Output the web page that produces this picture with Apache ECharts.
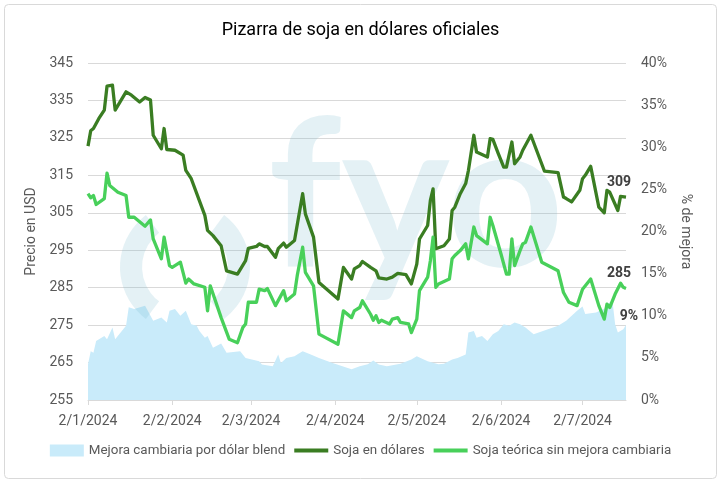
<!DOCTYPE html>
<html>
<head>
<meta charset="utf-8">
<script src="https://cdn.jsdelivr.net/npm/echarts@6/dist/echarts.min.js"></script>
<style>
html,body{margin:0;padding:0;background:#fff;}
#chart{width:721px;height:483px;}
</style>
</head>
<body>
<div id="chart"></div>
<script>
// ---- Datos ----
const titulo = 'Pizarra de soja en dólares oficiales';
const nombreMejora = 'Mejora cambiaria por dólar blend';
const nombreSoja = 'Soja en dólares';
const nombreTeorica = 'Soja teórica sin mejora cambiaria';

const ticksFechas = ['2024-01-02','2024-02-02','2024-03-02','2024-04-02','2024-05-02','2024-06-02','2024-07-02'];
const fechaInicio = '2024-01-02';
const fechaFin = '2024-07-18';

const ticksPrecio = [255, 265, 275, 285, 295, 305, 315, 325, 335, 345];
const ticksMejora = [0, 5, 10, 15, 20, 25, 30, 35, 40];

const fechasSoja = ['2024-01-02','2024-01-03','2024-01-04','2024-01-06','2024-01-08','2024-01-09','2024-01-11','2024-01-12','2024-01-16','2024-01-18','2024-01-21','2024-01-23','2024-01-25','2024-01-26','2024-01-29','2024-01-30','2024-01-31','2024-02-03','2024-02-06','2024-02-07','2024-02-09','2024-02-14','2024-02-15','2024-02-17','2024-02-20','2024-02-22','2024-02-26','2024-02-29','2024-03-01','2024-03-04','2024-03-05','2024-03-07','2024-03-08','2024-03-11','2024-03-12','2024-03-14','2024-03-15','2024-03-18','2024-03-21','2024-03-22','2024-03-25','2024-03-27','2024-04-03','2024-04-05','2024-04-08','2024-04-09','2024-04-11','2024-04-12','2024-04-15','2024-04-17','2024-04-18','2024-04-21','2024-04-23','2024-04-25','2024-04-28','2024-04-30','2024-05-02','2024-05-03','2024-05-06','2024-05-07','2024-05-08','2024-05-09','2024-05-12','2024-05-14','2024-05-15','2024-05-16','2024-05-18','2024-05-20','2024-05-21','2024-05-23','2024-05-24','2024-05-28','2024-05-29','2024-05-30','2024-06-01','2024-06-03','2024-06-04','2024-06-06','2024-06-07','2024-06-09','2024-06-10','2024-06-13','2024-06-18','2024-06-23','2024-06-25','2024-06-26','2024-06-28','2024-07-01','2024-07-02','2024-07-03','2024-07-05','2024-07-08','2024-07-10','2024-07-11','2024-07-12','2024-07-15','2024-07-16','2024-07-18'];
const sojaUSD = [322.8,326.9,327.5,330.2,332.4,338.8,339.1,332.4,337.3,336.4,334.6,335.8,335.1,325.7,322.1,327.5,321.9,321.7,320.4,316.3,314.1,304.3,300.3,298.9,296.2,289.5,288.6,292.2,295.5,296.0,296.7,296.0,296.0,293.1,295.4,296.9,295.8,297.6,310.1,304.7,298.5,286.4,282.0,290.4,287.3,290.0,290.9,292.0,290.4,289.5,287.6,287.3,287.8,288.8,288.5,286.0,291.3,298.0,301.6,308.3,311.4,295.4,296.2,298.0,305.6,306.5,310.1,312.8,316.3,325.7,321.2,319.9,324.8,324.6,320.8,317.2,317.2,323.9,318.1,319.9,321.7,325.7,316.1,315.7,309.2,308.8,307.9,311.0,314.1,315.0,317.4,306.5,305.0,311.0,310.5,305.6,309.4,309.2];

const fechasTeorica = ['2024-01-02','2024-01-03','2024-01-04','2024-01-05','2024-01-08','2024-01-09','2024-01-10','2024-01-13','2024-01-16','2024-01-17','2024-01-19','2024-01-23','2024-01-25','2024-01-26','2024-01-29','2024-01-30','2024-02-01','2024-02-02','2024-02-05','2024-02-07','2024-02-08','2024-02-10','2024-02-14','2024-02-15','2024-02-16','2024-02-20','2024-02-23','2024-02-26','2024-02-28','2024-02-29','2024-03-01','2024-03-04','2024-03-05','2024-03-07','2024-03-08','2024-03-11','2024-03-14','2024-03-15','2024-03-18','2024-03-19','2024-03-21','2024-03-22','2024-03-25','2024-03-27','2024-04-03','2024-04-05','2024-04-08','2024-04-09','2024-04-11','2024-04-12','2024-04-15','2024-04-16','2024-04-17','2024-04-18','2024-04-19','2024-04-22','2024-04-23','2024-04-25','2024-04-26','2024-04-29','2024-04-30','2024-05-02','2024-05-03','2024-05-06','2024-05-07','2024-05-08','2024-05-09','2024-05-10','2024-05-14','2024-05-15','2024-05-16','2024-05-18','2024-05-20','2024-05-21','2024-05-23','2024-05-24','2024-05-28','2024-05-29','2024-05-30','2024-06-02','2024-06-04','2024-06-05','2024-06-06','2024-06-07','2024-06-09','2024-06-10','2024-06-11','2024-06-13','2024-06-17','2024-06-23','2024-06-25','2024-06-27','2024-06-30','2024-07-02','2024-07-05','2024-07-08','2024-07-10','2024-07-11','2024-07-12','2024-07-14','2024-07-16','2024-07-17','2024-07-18'];
const sojaTeorica = [310.1,309.0,309.6,307.2,308.8,315.6,312.3,310.5,309.6,303.8,303.8,301.4,303.1,298.0,292.7,298.5,290.9,290.4,291.8,286.2,287.3,286.0,285.1,278.8,285.5,277.0,271.2,270.3,274.4,275.3,281.1,281.1,284.6,284.2,284.8,280.2,284.2,281.5,283.3,288.2,295.8,289.1,285.5,272.6,269.9,278.8,277.0,278.8,279.7,281.5,277.9,276.3,277.5,275.7,276.3,275.3,276.6,277.0,275.7,275.3,273.0,276.6,284.2,287.8,292.2,298.5,285.1,286.0,287.3,292.7,293.6,294.9,296.7,292.7,301.2,298.9,296.7,303.8,301.6,294.0,288.6,288.6,298.0,290.9,294.9,296.7,297.1,301.2,291.8,289.5,283.7,281.1,280.2,284.6,287.3,280.2,276.6,280.6,279.7,283.3,286.2,285.1,284.8];

const fechasMejora = ['2024-01-02','2024-01-03','2024-01-04','2024-01-05','2024-01-08','2024-01-09','2024-01-11','2024-01-12','2024-01-16','2024-01-17','2024-01-19','2024-01-23','2024-01-26','2024-01-29','2024-01-31','2024-02-01','2024-02-03','2024-02-05','2024-02-07','2024-02-09','2024-02-11','2024-02-12','2024-02-14','2024-02-15','2024-02-17','2024-02-20','2024-02-22','2024-02-27','2024-02-29','2024-03-05','2024-03-06','2024-03-10','2024-03-12','2024-03-13','2024-03-15','2024-03-18','2024-03-19','2024-03-21','2024-03-24','2024-03-27','2024-04-01','2024-04-08','2024-04-11','2024-04-14','2024-04-16','2024-04-18','2024-04-21','2024-04-26','2024-04-30','2024-05-02','2024-05-06','2024-05-10','2024-05-12','2024-05-15','2024-05-17','2024-05-20','2024-05-21','2024-05-23','2024-05-24','2024-05-26','2024-05-28','2024-05-30','2024-06-01','2024-06-03','2024-06-05','2024-06-07','2024-06-09','2024-06-11','2024-06-14','2024-06-23','2024-06-26','2024-06-30','2024-07-02','2024-07-03','2024-07-07','2024-07-11','2024-07-12','2024-07-13','2024-07-14','2024-07-15','2024-07-17','2024-07-18'];
const mejoraBlend = [4.25,5.8,5.6,7.0,7.6,7.2,8.6,7.2,8.8,11.0,10.8,11.2,9.4,9.8,9.2,10.6,10.8,10.0,10.6,9.0,8.8,8.2,7.4,7.6,6.2,6.7,5.6,5.8,5.0,4.6,4.2,4.0,5.4,4.4,5.0,5.2,5.4,5.8,5.4,5.0,4.4,3.65,4.0,4.25,4.7,4.2,4.0,4.3,4.8,5.2,4.6,4.25,4.3,4.8,5.0,5.4,8.0,8.2,7.4,7.6,7.0,7.8,8.2,9.0,8.8,9.2,9.0,8.6,7.8,8.8,9.4,10.6,11.1,10.2,10.4,11.0,11.6,11.8,9.0,8.0,8.4,8.9];

// ---- Helpers ----
function toTime(s){ const p = s.split('-').map(Number); return new Date(p[0], p[1]-1, p[2]).getTime(); }
function fmtFecha(v){ const d = new Date(v); return d.getDate() + '/' + (d.getMonth()+1) + '/' + d.getFullYear(); }

const FONT = "Roboto, 'Liberation Sans', sans-serif";
const GRIS = '#595959';
const C_AREA = '#c9ebfa';
const C_SOJA = '#3a7d22';
const C_TEO = '#48d05a';

function buildData(fechas, vals, lastLabel){
  return fechas.map((f, i) => {
    const item = { value: [toTime(f), vals[i]] };
    if (i === fechas.length - 1 && lastLabel) item.label = lastLabel;
    return item;
  });
}

const labelStyle = { show: true, color: '#404040', fontWeight: 'bold', fontSize: 14, fontFamily: FONT };

const chart = echarts.init(document.getElementById('chart'), null, { renderer: 'canvas' });
const lineIcon = 'path://M0,0 L34,0 L34,4 L0,4 Z';
const tickTimes = ticksFechas.map(toTime);

chart.setOption({
  animation: false,
  backgroundColor: '#fff',
  title: {
    text: titulo, left: 'center', top: 16,
    textStyle: { fontFamily: FONT, fontSize: 18, fontWeight: 'normal', color: '#000' }
  },
  graphic: {
    elements: [
      { type: 'rect', z: 0, silent: true, shape: { x: 4.5, y: 4.5, width: 712, height: 474, r: 4 }, style: { fill: 'none', stroke: '#d9d9d9', lineWidth: 1 } },
      { type: 'sector', z: 2, silent: true, shape: { cx: 185, cy: 267, r0: 43, r: 65, startAngle: 127*Math.PI/180, endAngle: 233*Math.PI/180 }, style: { fill: 'rgba(120,185,205,0.2)' } },
      { type: 'sector', z: 2, silent: true, shape: { cx: 185, cy: 267, r0: 43, r: 65, startAngle: -53*Math.PI/180, endAngle: 53*Math.PI/180 }, style: { fill: 'rgba(120,185,205,0.2)' } },
      { type: 'text', z: 2, silent: true, x: 268, y: 200, style: { text: 'fyo', font: "bold 205px Lato, 'Open Sans', sans-serif", fill: 'rgba(120,185,205,0.2)', verticalAlign: 'middle', align: 'left' } }
    ]
  },
  grid: { left: 88, right: 95, top: 63, bottom: 83, containLabel: false },
  legend: {
    top: 439, left: 'center', itemWidth: 34, itemHeight: 12, itemGap: 9,
    textStyle: { fontFamily: FONT, fontSize: 13.4, color: GRIS },
    data: [
      { name: nombreMejora, icon: 'rect' },
      { name: nombreSoja, icon: lineIcon },
      { name: nombreTeorica, icon: lineIcon }
    ]
  },
  xAxis: {
    type: 'value',
    min: toTime(fechaInicio), max: toTime(fechaFin),
    axisLine: { show: true, lineStyle: { color: '#d9d9d9', width: 1 } },
    axisTick: { show: true, length: 5, lineStyle: { color: '#d9d9d9' }, customValues: tickTimes },
    axisLabel: { customValues: tickTimes, formatter: v => fmtFecha(v), color: GRIS, fontSize: 14, fontFamily: FONT, margin: 14 },
    splitLine: { show: false }
  },
  yAxis: [
    {
      type: 'value', min: ticksPrecio[0], max: ticksPrecio[ticksPrecio.length-1], interval: 10,
      name: 'Precio en USD', nameLocation: 'middle', nameGap: 35, nameRotate: 90,
      nameTextStyle: { fontFamily: FONT, fontSize: 14, color: GRIS },
      axisLine: { show: false }, axisTick: { show: false },
      axisLabel: { color: GRIS, fontSize: 14, fontFamily: FONT, margin: 15 },
      splitLine: { lineStyle: { color: '#d9d9d9', width: 1 } }
    },
    {
      type: 'value', min: ticksMejora[0], max: ticksMejora[ticksMejora.length-1], interval: 5,
      name: '% de mejora', nameLocation: 'middle', nameGap: 52, nameRotate: -90,
      nameTextStyle: { fontFamily: FONT, fontSize: 14, color: GRIS },
      axisLine: { show: false }, axisTick: { show: false },
      axisLabel: { color: GRIS, fontSize: 14, fontFamily: FONT, margin: 15, formatter: '{value}%' },
      splitLine: { show: false }
    }
  ],
  series: [
    {
      name: nombreMejora, type: 'line', yAxisIndex: 1, z: 1,
      symbol: 'circle', symbolSize: 0.1, showSymbol: true, showAllSymbol: true, color: C_AREA,
      lineStyle: { width: 0, color: C_AREA },
      areaStyle: { color: C_AREA, opacity: 1 },
      data: buildData(fechasMejora, mejoraBlend, Object.assign({}, labelStyle, { position: 'top', distance: 4, offset: [3, 3], formatter: p => Math.round(p.value[1]) + '%' }))
    },
    {
      name: nombreSoja, type: 'line', yAxisIndex: 0, z: 3,
      symbol: 'circle', symbolSize: 0.1, showSymbol: true, showAllSymbol: true, color: C_SOJA,
      lineStyle: { width: 3.3, color: C_SOJA, join: 'round' },
      data: buildData(fechasSoja, sojaUSD, Object.assign({}, labelStyle, { position: 'top', distance: 4, offset: [-7, -4], formatter: p => Math.round(p.value[1]) }))
    },
    {
      name: nombreTeorica, type: 'line', yAxisIndex: 0, z: 3,
      symbol: 'circle', symbolSize: 0.1, showSymbol: true, showAllSymbol: true, color: C_TEO,
      lineStyle: { width: 3.3, color: C_TEO, join: 'round' },
      data: buildData(fechasTeorica, sojaTeorica, Object.assign({}, labelStyle, { position: 'top', distance: 4, offset: [-7, -4], formatter: p => Math.round(p.value[1]) }))
    }
  ]
});
</script>
</body>
</html>
